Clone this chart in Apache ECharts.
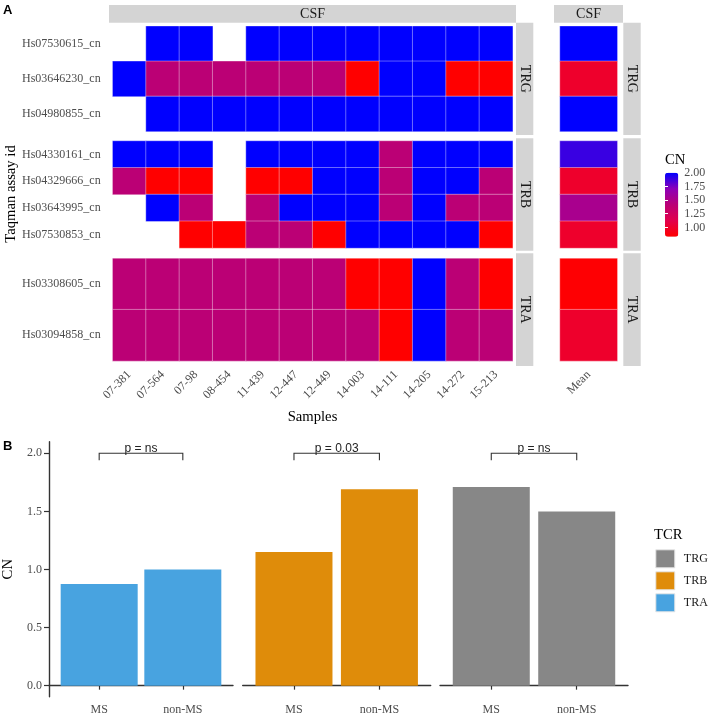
<!DOCTYPE html>
<html>
<head>
<meta charset="utf-8">
<script src="https://cdn.jsdelivr.net/npm/echarts@6/dist/echarts.min.js"></script>
<style>
  html, body { margin: 0; padding: 0; background: #fff; }
  #chart { width: 709px; height: 716px; }
</style>
</head>
<body>
<div id="chart"></div>
<script>
// ---- data ----
var samples = ['07-381', '07-564', '07-98', '08-454', '11-439', '12-447', '12-449', '14-003', '14-111', '14-205', '14-272', '15-213'];
var meanLabel = ['Mean'];
var panels = ['TRG', 'TRB', 'TRA'];

var trgAssays = ['Hs07530615_cn', 'Hs03646230_cn', 'Hs04980855_cn'];
var trbAssays = ['Hs04330161_cn', 'Hs04329666_cn', 'Hs03643995_cn', 'Hs07530853_cn'];
var traAssays = ['Hs03308605_cn', 'Hs03094858_cn'];

// CN per assay (rows) x sample (columns), null = no value
var trgCN = [
  [null, 2, 2, null, 2, 2, 2, 2, 2, 2, 2, 2],
  [2, 1.41, 1.41, 1.41, 1.41, 1.41, 1.41, 0.83, 2, 2, 0.83, 0.83],
  [null, 2, 2, 2, 2, 2, 2, 2, 2, 2, 2, 2]
];
var trbCN = [
  [2, 2, 2, null, 2, 2, 2, 2, 1.41, 2, 2, 2],
  [1.41, 0.83, 0.83, null, 0.83, 0.83, 2, 2, 1.41, 2, 2, 1.41],
  [null, 2, 1.41, null, 1.41, 2, 2, 2, 1.41, 2, 1.41, 1.41],
  [null, null, 0.83, 0.83, 1.41, 1.41, 0.83, 2, 2, 2, 2, 0.83]
];
var traCN = [
  [1.41, 1.41, 1.41, 1.41, 1.41, 1.41, 1.41, 0.83, 0.83, 2, 1.41, 0.83],
  [1.41, 1.41, 1.41, 1.41, 1.41, 1.41, 1.41, 1.41, 0.83, 2, 1.41, 1.41]
];
var trgMean = [2.0, 1.0, 2.0];
var trbMean = [1.88, 1.0, 1.52, 1.0];
var traMean = [0.84, 1.0];

var cnMin = 0.83, cnMax = 2.0;
var cnTicks = [1.00, 1.25, 1.50, 1.75, 2.00];

// panel B
var groups = ['MS', 'non-MS'];
var traBar = [0.875, 1.0];
var trbBar = [1.15, 1.69];
var trgBar = [1.71, 1.50];
var pLabels = ['p = ns', 'p = 0.03', 'p = ns'];
var bracketY = 2.0;
var barTicks = [0, 0.5, 1, 1.5, 2];

// ---- look ----
var SERIF = '"Liberation Serif", "DejaVu Serif", serif';
var SANS = '"Liberation Sans", Arial, sans-serif';
var cnColors = ['#ff0000', '#e2004c', '#ba0076', '#8c00b8', '#0000ff'];
var tcrColors = { TRA: '#48a3e0', TRB: '#df8c0a', TRG: '#878787' };

var myChart = echarts.init(document.getElementById('chart'));

function cells(m) {
  var out = [];
  m.forEach(function (row, r) {
    row.forEach(function (v, c) {
      if (v !== null) out.push([c, r, v]);
    });
  });
  return out;
}
function meanCells(arr) {
  return arr.map(function (v, r) { return [0, r, v]; });
}

var rowSets = [trgAssays, trbAssays, traAssays];
var cnSets = [trgCN, trbCN, traCN];
var meanSets = [trgMean, trbMean, traMean];
var tops = [26.2, 141, 258.4];
var heights = [105.3, 107, 102.5];

var grid = [], xAxis = [], yAxis = [], series = [];

// heatmap main panels
for (var i = 0; i < 3; i++) {
  grid.push({ left: 112.7, top: tops[i], width: 400, height: heights[i] });
  xAxis.push({
    type: 'category', gridIndex: grid.length - 1, data: samples,
    show: i === 2, axisLine: { show: false }, axisTick: { show: false },
    axisLabel: { rotate: 45, margin: 12, fontFamily: SERIF, fontSize: 12, color: '#4d4d4d' }
  });
  yAxis.push({
    type: 'category', gridIndex: grid.length - 1, data: rowSets[i], inverse: true,
    axisLine: { show: false }, axisTick: { show: false },
    axisLabel: { margin: 12, fontFamily: SERIF, fontSize: 12, color: '#4d4d4d' }
  });
  series.push({
    type: 'heatmap', xAxisIndex: xAxis.length - 1, yAxisIndex: yAxis.length - 1,
    data: cells(cnSets[i]),
    itemStyle: { borderColor: 'rgba(255,255,255,0.45)', borderWidth: 0.8 },
    emphasis: { disabled: true }
  });
}
// heatmap mean panels
for (var j = 0; j < 3; j++) {
  grid.push({ left: 560, top: tops[j], width: 57.3, height: heights[j] });
  xAxis.push({
    type: 'category', gridIndex: grid.length - 1, data: meanLabel,
    show: j === 2, axisLine: { show: false }, axisTick: { show: false },
    axisLabel: { rotate: 45, margin: 12, fontFamily: SERIF, fontSize: 12, color: '#4d4d4d' }
  });
  yAxis.push({
    type: 'category', gridIndex: grid.length - 1, data: rowSets[j], inverse: true, show: false
  });
  series.push({
    type: 'heatmap', xAxisIndex: xAxis.length - 1, yAxisIndex: yAxis.length - 1,
    data: meanCells(meanSets[j]),
    itemStyle: { borderColor: 'rgba(255,255,255,0.45)', borderWidth: 0.8 },
    emphasis: { disabled: true }
  });
}

// colour bar labels (grid 6)
grid.push({ left: 665, top: 172.7, width: 13.3, height: 64 });
xAxis.push({ type: 'value', gridIndex: 6, show: false });
yAxis.push({
  type: 'value', gridIndex: 6, min: cnMin, max: cnMax, position: 'right', z: 10,
  axisLine: { show: false }, splitLine: { show: false },
  axisTick: { show: true, inside: true, length: 3, customValues: cnTicks, lineStyle: { color: '#fff', width: 1 } },
  axisLabel: { customValues: cnTicks, margin: 6, fontFamily: SERIF, fontSize: 12, color: '#4d4d4d',
    formatter: function (v) { return v.toFixed(2); } }
});
yAxis.push({
  type: 'value', gridIndex: 6, min: cnMin, max: cnMax, position: 'left', z: 10,
  axisLine: { show: false }, splitLine: { show: false }, axisLabel: { show: false },
  axisTick: { show: true, inside: true, length: 3, customValues: cnTicks, lineStyle: { color: '#fff', width: 1 } }
});

// panel B bar grids
var barSets = { TRA: traBar, TRB: trbBar, TRG: trgBar };
var barOrder = ['TRA', 'TRB', 'TRG'];
var barLefts = [45, 242.7, 440];
barOrder.forEach(function (tcr, k) {
  grid.push({ left: barLefts[k], top: 441.7, width: 188, height: 255 });
  var gi = grid.length - 1;
  xAxis.push({
    type: 'value', gridIndex: gi, min: 0.4, max: 2.6,
    splitLine: { show: false },
    axisLine: { show: true, lineStyle: { color: '#333', width: 1.4 } },
    axisTick: { show: true, length: 4, customValues: [1, 2], lineStyle: { color: '#333', width: 1.2 } },
    axisLabel: { customValues: [1, 2], margin: 7, fontFamily: SERIF, fontSize: 12, color: '#4d4d4d',
      formatter: function (v) { return groups[Math.round(v) - 1]; } }
  });
  yAxis.push({
    type: 'value', gridIndex: gi, min: -0.095, max: 2.1,
    show: k === 0,
    splitLine: { show: false },
    axisLine: { show: true, lineStyle: { color: '#333', width: 1.4 } },
    axisTick: { show: true, length: 5, customValues: barTicks, lineStyle: { color: '#333', width: 1.2 } },
    axisLabel: { customValues: barTicks, margin: 7, fontFamily: SERIF, fontSize: 12, color: '#4d4d4d',
      formatter: function (v) { return v.toFixed(1); } },
    name: 'CN', nameLocation: 'middle', nameGap: 33,
    nameTextStyle: { fontFamily: SERIF, fontSize: 14.67, color: '#000' }
  });
  var xi = xAxis.length - 1, yi = yAxis.length - 1;
  series.push({
    type: 'bar', name: tcr, xAxisIndex: xi, yAxisIndex: yi,
    barWidth: 77,
    itemStyle: { color: tcrColors[tcr] },
    data: barSets[tcr].map(function (v, g) { return [g + 1, v]; }),
    emphasis: { disabled: true }
  });
  series.push({
    type: 'custom', xAxisIndex: xi, yAxisIndex: yi, clip: false, silent: true,
    data: [[1, 2, bracketY, k]],
    renderItem: function (params, api) {
      var p1 = api.coord([api.value(0), api.value(2)]);
      var p2 = api.coord([api.value(1), api.value(2)]);
      return {
        type: 'group',
        children: [
          { type: 'polyline',
            shape: { points: [[p1[0], p1[1] + 7], [p1[0], p1[1]], [p2[0], p2[1]], [p2[0], p2[1] + 7]] },
            style: { stroke: '#333', lineWidth: 1.1, fill: null } },
          { type: 'text',
            style: { text: pLabels[api.value(3)], x: (p1[0] + p2[0]) / 2, y: p1[1] + 1,
              align: 'center', verticalAlign: 'bottom', textAlign: 'center', textVerticalAlign: 'bottom',
              fontFamily: SANS, fontSize: 12, fill: '#222' } }
        ]
      };
    }
  });
});

// strips and titles
var stripFill = '#d4d4d4';
var graphics = [];
function strip(x, y, w, h, text, vertical) {
  graphics.push({ type: 'rect', shape: { x: x, y: y, width: w, height: h }, style: { fill: stripFill }, silent: true });
  graphics.push({
    type: 'text', x: x + w / 2, y: y + h / 2, rotation: vertical ? -Math.PI / 2 : 0, silent: true,
    style: { text: text, fontFamily: SERIF, fontSize: 14, fill: '#1a1a1a',
      align: 'center', verticalAlign: 'middle', textAlign: 'center', textVerticalAlign: 'middle' }
  });
}
function label(x, y, text, font, size, opts) {
  opts = opts || {};
  graphics.push({
    type: 'text', x: x, y: y, rotation: opts.rot || 0, silent: true,
    style: { text: text, fontFamily: font, fontSize: size, fontWeight: opts.bold ? 'bold' : 'normal',
      fill: opts.color || '#000',
      align: opts.align || 'center', verticalAlign: 'middle',
      textAlign: opts.align || 'center', textVerticalAlign: 'middle' }
  });
}
strip(109, 5, 407, 17.7, 'CSF', false);
strip(554, 5, 69, 17.7, 'CSF', false);
var stripTops = [22.7, 138.3, 253.3];
var stripH = [112.3, 112.4, 112.7];
panels.forEach(function (p, k) {
  strip(516, stripTops[k], 17.3, stripH[k], p, true);
  strip(623.3, stripTops[k], 17.4, stripH[k], p, true);
});
label(3, 10, 'A', SANS, 13, { bold: true, align: 'left' });
label(3, 446, 'B', SANS, 13, { bold: true, align: 'left' });
label(11, 194, 'Taqman assay id', SERIF, 14.67, { rot: Math.PI / 2 });
label(312.5, 417, 'Samples', SERIF, 14.67);
label(665, 160, 'CN', SERIF, 14.67, { align: 'left' });
label(654, 535, 'TCR', SERIF, 14.67, { align: 'left' });

var option = {
  animation: false,
  backgroundColor: '#fff',
  grid: grid,
  xAxis: xAxis,
  yAxis: yAxis,
  visualMap: {
    type: 'continuous', min: cnMin, max: cnMax, seriesIndex: [0, 1, 2, 3, 4, 5],
    inRange: { color: cnColors }, calculable: false, show: true, hoverLink: false,
    orient: 'vertical', left: 665, top: 172.7, itemWidth: 13.3, itemHeight: 64, padding: 0,
    text: null
  },
  legend: {
    data: ['TRG', 'TRB', 'TRA'], orient: 'vertical', left: 655.3, top: 549.3, padding: 0,
    icon: 'rect', itemWidth: 19, itemHeight: 18, itemGap: 3, selectedMode: false,
    itemStyle: { borderColor: '#e6e6e6', borderWidth: 1 },
    textStyle: { fontFamily: SERIF, fontSize: 12, color: '#1a1a1a', padding: [0, 0, 0, 4] }
  },
  graphic: { elements: graphics },
  series: series
};
myChart.setOption(option);
</script>
</body>
</html>
